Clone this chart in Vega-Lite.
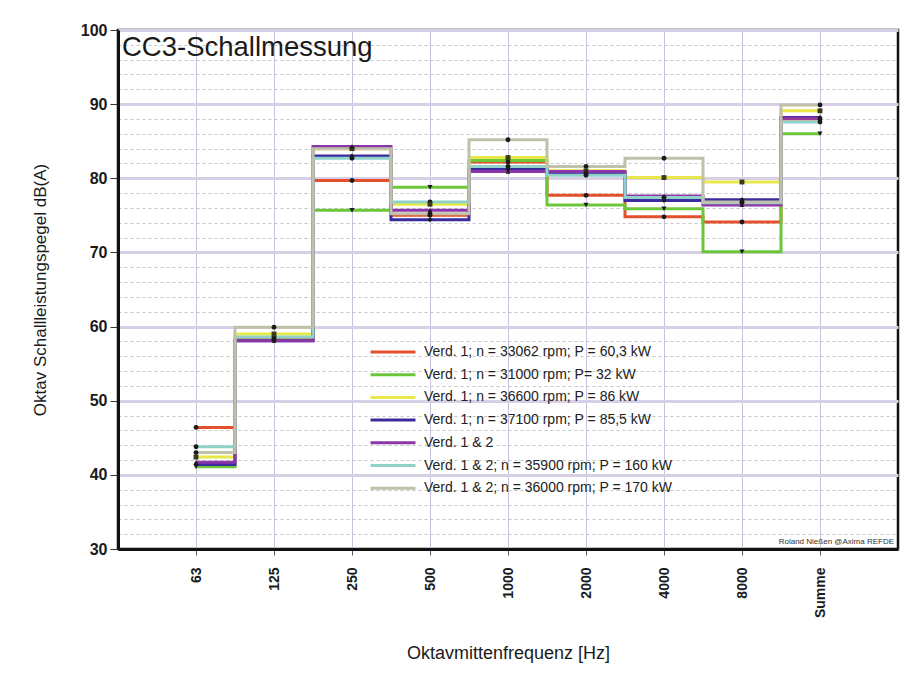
{
  "$schema": "https://vega.github.io/schema/vega-lite/v6.json",
  "width": 780,
  "height": 519,
  "autosize": {"type": "none"},
  "padding": {"left": 118, "top": 30, "right": 22, "bottom": 139},
  "background": "white",
  "title": {"text": "CC3-Schallmessung", "anchor": "start", "frame": "group", "offset": -61, "dx": 4, "fontSize": 27.5, "fontWeight": "normal", "font": "Liberation Sans", "color": "#1a1a1a", "baseline": "alphabetic"},
  "config": {
    "view": {"stroke": "#111", "strokeWidth": 2.5},
    "font": "Liberation Sans"
  },
  "resolve": {"axis": {"y": "independent"}},
  "datasets": {
    "levels": [
      {"s": "Verd. 1; n = 33062 rpm; P = 60,3 kW", "f": "63", "v": 46.4},
      {"s": "Verd. 1; n = 33062 rpm; P = 60,3 kW", "f": "125", "v": 58.3},
      {"s": "Verd. 1; n = 33062 rpm; P = 60,3 kW", "f": "250", "v": 79.7},
      {"s": "Verd. 1; n = 33062 rpm; P = 60,3 kW", "f": "500", "v": 75.0},
      {"s": "Verd. 1; n = 33062 rpm; P = 60,3 kW", "f": "1000", "v": 82.2},
      {"s": "Verd. 1; n = 33062 rpm; P = 60,3 kW", "f": "2000", "v": 77.7},
      {"s": "Verd. 1; n = 33062 rpm; P = 60,3 kW", "f": "4000", "v": 74.8},
      {"s": "Verd. 1; n = 33062 rpm; P = 60,3 kW", "f": "8000", "v": 74.1},
      {"s": "Verd. 1; n = 33062 rpm; P = 60,3 kW", "f": "Summe", "v": 88.0},
      {"s": "Verd. 1; n = 31000 rpm; P= 32 kW", "f": "63", "v": 41.1},
      {"s": "Verd. 1; n = 31000 rpm; P= 32 kW", "f": "125", "v": 58.2},
      {"s": "Verd. 1; n = 31000 rpm; P= 32 kW", "f": "250", "v": 75.7},
      {"s": "Verd. 1; n = 31000 rpm; P= 32 kW", "f": "500", "v": 78.8},
      {"s": "Verd. 1; n = 31000 rpm; P= 32 kW", "f": "1000", "v": 82.4},
      {"s": "Verd. 1; n = 31000 rpm; P= 32 kW", "f": "2000", "v": 76.4},
      {"s": "Verd. 1; n = 31000 rpm; P= 32 kW", "f": "4000", "v": 75.9},
      {"s": "Verd. 1; n = 31000 rpm; P= 32 kW", "f": "8000", "v": 70.1},
      {"s": "Verd. 1; n = 31000 rpm; P= 32 kW", "f": "Summe", "v": 86.0},
      {"s": "Verd. 1; n = 36600 rpm; P = 86 kW", "f": "63", "v": 42.4},
      {"s": "Verd. 1; n = 36600 rpm; P = 86 kW", "f": "125", "v": 59.0},
      {"s": "Verd. 1; n = 36600 rpm; P = 86 kW", "f": "250", "v": 84.0},
      {"s": "Verd. 1; n = 36600 rpm; P = 86 kW", "f": "500", "v": 76.5},
      {"s": "Verd. 1; n = 36600 rpm; P = 86 kW", "f": "1000", "v": 82.8},
      {"s": "Verd. 1; n = 36600 rpm; P = 86 kW", "f": "2000", "v": 81.0},
      {"s": "Verd. 1; n = 36600 rpm; P = 86 kW", "f": "4000", "v": 80.1},
      {"s": "Verd. 1; n = 36600 rpm; P = 86 kW", "f": "8000", "v": 79.5},
      {"s": "Verd. 1; n = 36600 rpm; P = 86 kW", "f": "Summe", "v": 89.1},
      {"s": "Verd. 1; n = 37100 rpm; P = 85,5 kW", "f": "63", "v": 41.4},
      {"s": "Verd. 1; n = 37100 rpm; P = 85,5 kW", "f": "125", "v": 58.1},
      {"s": "Verd. 1; n = 37100 rpm; P = 85,5 kW", "f": "250", "v": 83.0},
      {"s": "Verd. 1; n = 37100 rpm; P = 85,5 kW", "f": "500", "v": 74.4},
      {"s": "Verd. 1; n = 37100 rpm; P = 85,5 kW", "f": "1000", "v": 81.2},
      {"s": "Verd. 1; n = 37100 rpm; P = 85,5 kW", "f": "2000", "v": 80.7},
      {"s": "Verd. 1; n = 37100 rpm; P = 85,5 kW", "f": "4000", "v": 77.0},
      {"s": "Verd. 1; n = 37100 rpm; P = 85,5 kW", "f": "8000", "v": 77.1},
      {"s": "Verd. 1; n = 37100 rpm; P = 85,5 kW", "f": "Summe", "v": 88.2},
      {"s": "Verd. 1 & 2", "f": "63", "v": 41.7},
      {"s": "Verd. 1 & 2", "f": "125", "v": 58.1},
      {"s": "Verd. 1 & 2", "f": "250", "v": 84.3},
      {"s": "Verd. 1 & 2", "f": "500", "v": 75.7},
      {"s": "Verd. 1 & 2", "f": "1000", "v": 80.9},
      {"s": "Verd. 1 & 2", "f": "2000", "v": 80.9},
      {"s": "Verd. 1 & 2", "f": "4000", "v": 77.6},
      {"s": "Verd. 1 & 2", "f": "8000", "v": 76.4},
      {"s": "Verd. 1 & 2", "f": "Summe", "v": 88.1},
      {"s": "Verd. 1 & 2; n = 35900 rpm; P = 160 kW", "f": "63", "v": 43.8},
      {"s": "Verd. 1 & 2; n = 35900 rpm; P = 160 kW", "f": "125", "v": 58.6},
      {"s": "Verd. 1 & 2; n = 35900 rpm; P = 160 kW", "f": "250", "v": 82.7},
      {"s": "Verd. 1 & 2; n = 35900 rpm; P = 160 kW", "f": "500", "v": 76.8},
      {"s": "Verd. 1 & 2; n = 35900 rpm; P = 160 kW", "f": "1000", "v": 81.6},
      {"s": "Verd. 1 & 2; n = 35900 rpm; P = 160 kW", "f": "2000", "v": 80.4},
      {"s": "Verd. 1 & 2; n = 35900 rpm; P = 160 kW", "f": "4000", "v": 77.4},
      {"s": "Verd. 1 & 2; n = 35900 rpm; P = 160 kW", "f": "8000", "v": 76.7},
      {"s": "Verd. 1 & 2; n = 35900 rpm; P = 160 kW", "f": "Summe", "v": 87.6},
      {"s": "Verd. 1 & 2; n = 36000 rpm; P = 170 kW", "f": "63", "v": 43.0},
      {"s": "Verd. 1 & 2; n = 36000 rpm; P = 170 kW", "f": "125", "v": 59.9},
      {"s": "Verd. 1 & 2; n = 36000 rpm; P = 170 kW", "f": "250", "v": 84.0},
      {"s": "Verd. 1 & 2; n = 36000 rpm; P = 170 kW", "f": "500", "v": 75.2},
      {"s": "Verd. 1 & 2; n = 36000 rpm; P = 170 kW", "f": "1000", "v": 85.2},
      {"s": "Verd. 1 & 2; n = 36000 rpm; P = 170 kW", "f": "2000", "v": 81.6},
      {"s": "Verd. 1 & 2; n = 36000 rpm; P = 170 kW", "f": "4000", "v": 82.7},
      {"s": "Verd. 1 & 2; n = 36000 rpm; P = 170 kW", "f": "8000", "v": 76.8},
      {"s": "Verd. 1 & 2; n = 36000 rpm; P = 170 kW", "f": "Summe", "v": 89.9}
    ],
    "note": [{"t": "Roland Nießen @Axima REFDE", "f": "Summe", "v": 30}]
  },
  "layer": [
    {
      "data": {"name": "levels"},
      "mark": {"type": "line", "interpolate": "step", "strokeWidth": 3},
      "encoding": {
        "x": {
          "field": "f", "type": "ordinal",
          "sort": ["63", "125", "250", "500", "1000", "2000", "4000", "8000", "Summe"],
          "scale": {"type": "point", "padding": 1},
          "axis": {
            "title": "Oktavmittenfrequenz [Hz]", "titleFontSize": 18, "titleFontWeight": "normal", "titleColor": "#1a1a1a", "titlePadding": 27,
            "labelAngle": -90, "labelFontSize": 14, "labelFontWeight": "bold", "labelColor": "#1a1a1a", "labelPadding": 12,
            "tickSize": 6, "tickColor": "#555", "tickWidth": 1,
            "domainColor": "#111", "domainWidth": 3,
            "grid": true, "gridColor": "#c9c2de", "gridWidth": 1
          }
        },
        "y": {
          "field": "v", "type": "quantitative",
          "scale": {"domain": [30, 100], "nice": false, "zero": false},
          "axis": {
            "orient": "left",
            "title": "Oktav Schallleistungspegel dB(A)", "titleFontSize": 17, "titleFontWeight": "normal", "titleColor": "#1a1a1a", "titlePadding": 31,
            "values": [30, 40, 50, 60, 70, 80, 90, 100],
            "labelFontSize": 16, "labelFontWeight": "bold", "labelColor": "#1a1a1a", "labelPadding": 3, "labelOverlap": false,
            "tickSize": 8, "tickColor": "#333",
            "domainColor": "#111", "domainWidth": 3,
            "grid": true, "gridColor": "#d6cfe6", "gridWidth": 3
          }
        },
        "color": {
          "field": "s", "type": "nominal",
          "scale": {
            "domain": ["Verd. 1; n = 33062 rpm; P = 60,3 kW", "Verd. 1; n = 31000 rpm; P= 32 kW", "Verd. 1; n = 36600 rpm; P = 86 kW", "Verd. 1; n = 37100 rpm; P = 85,5 kW", "Verd. 1 & 2", "Verd. 1 & 2; n = 35900 rpm; P = 160 kW", "Verd. 1 & 2; n = 36000 rpm; P = 170 kW"],
            "range": ["#e4502c", "#6cc63a", "#e8e84a", "#3a2c9e", "#8b36a8", "#90d2ca", "#c0c1a8"]
          },
          "legend": {
            "title": null, "orient": "none", "legendX": 251, "legendY": 314,
            "symbolType": "stroke", "symbolStrokeWidth": 3, "symbolSize": 2025,
            "clipHeight": 16, "rowPadding": 6.7,
            "labelFontSize": 14, "labelColor": "#222", "labelLimit": 400, "labelOffset": 7
          }
        }
      }
    },
    {
      "data": {"name": "levels"},
      "transform": [{"filter": {"field": "s", "oneOf": ["Verd. 1; n = 33062 rpm; P = 60,3 kW", "Verd. 1 & 2; n = 35900 rpm; P = 160 kW", "Verd. 1 & 2; n = 36000 rpm; P = 170 kW"]}}],
      "mark": {"type": "point", "shape": "circle", "filled": true, "color": "#1a1a1a", "size": 24, "opacity": 1},
      "encoding": {
        "x": {"field": "f", "type": "ordinal", "sort": ["63", "125", "250", "500", "1000", "2000", "4000", "8000", "Summe"]},
        "y": {
          "field": "v", "type": "quantitative",
          "axis": {
            "orient": "left", "title": null, "labels": false, "ticks": false, "domain": false,
            "values": [32, 34, 36, 38, 42, 44, 46, 48, 52, 54, 56, 58, 62, 64, 66, 68, 72, 74, 76, 78, 82, 84, 86, 88, 92, 94, 96, 98],
            "grid": true, "gridColor": "#c4c4c4", "gridWidth": 1, "gridDash": [3, 3]
          }
        }
      }
    },
    {
      "data": {"name": "levels"},
      "transform": [{"filter": {"field": "s", "equal": "Verd. 1; n = 31000 rpm; P= 32 kW"}}],
      "mark": {"type": "point", "shape": "triangle-down", "filled": true, "color": "#1a1a1a", "size": 26, "opacity": 1},
      "encoding": {
        "x": {"field": "f", "type": "ordinal", "sort": ["63", "125", "250", "500", "1000", "2000", "4000", "8000", "Summe"]},
        "y": {"field": "v", "type": "quantitative", "axis": null}
      }
    },
    {
      "data": {"name": "levels"},
      "transform": [{"filter": {"field": "s", "equal": "Verd. 1; n = 36600 rpm; P = 86 kW"}}],
      "mark": {"type": "point", "shape": "square", "filled": true, "color": "#3a3a1a", "size": 24, "opacity": 1},
      "encoding": {
        "x": {"field": "f", "type": "ordinal", "sort": ["63", "125", "250", "500", "1000", "2000", "4000", "8000", "Summe"]},
        "y": {"field": "v", "type": "quantitative", "axis": null}
      }
    },
    {
      "data": {"name": "levels"},
      "transform": [{"filter": {"field": "s", "equal": "Verd. 1; n = 37100 rpm; P = 85,5 kW"}}],
      "mark": {"type": "point", "shape": "diamond", "filled": true, "color": "#1a1a1a", "size": 26, "opacity": 1},
      "encoding": {
        "x": {"field": "f", "type": "ordinal", "sort": ["63", "125", "250", "500", "1000", "2000", "4000", "8000", "Summe"]},
        "y": {"field": "v", "type": "quantitative", "axis": null}
      }
    },
    {
      "data": {"name": "levels"},
      "transform": [{"filter": {"field": "s", "equal": "Verd. 1 & 2"}}],
      "mark": {"type": "point", "shape": "triangle-up", "filled": true, "color": "#1a1a1a", "size": 22, "opacity": 1},
      "encoding": {
        "x": {"field": "f", "type": "ordinal", "sort": ["63", "125", "250", "500", "1000", "2000", "4000", "8000", "Summe"]},
        "y": {"field": "v", "type": "quantitative", "axis": null}
      }
    },
    {
      "data": {"name": "note"},
      "mark": {"type": "text", "align": "right", "baseline": "bottom", "dx": 74, "dy": -3, "fontSize": 8, "color": "#333"},
      "encoding": {
        "x": {"field": "f", "type": "ordinal", "sort": ["63", "125", "250", "500", "1000", "2000", "4000", "8000", "Summe"]},
        "y": {"field": "v", "type": "quantitative", "axis": null},
        "text": {"field": "t"}
      }
    }
  ]
}
